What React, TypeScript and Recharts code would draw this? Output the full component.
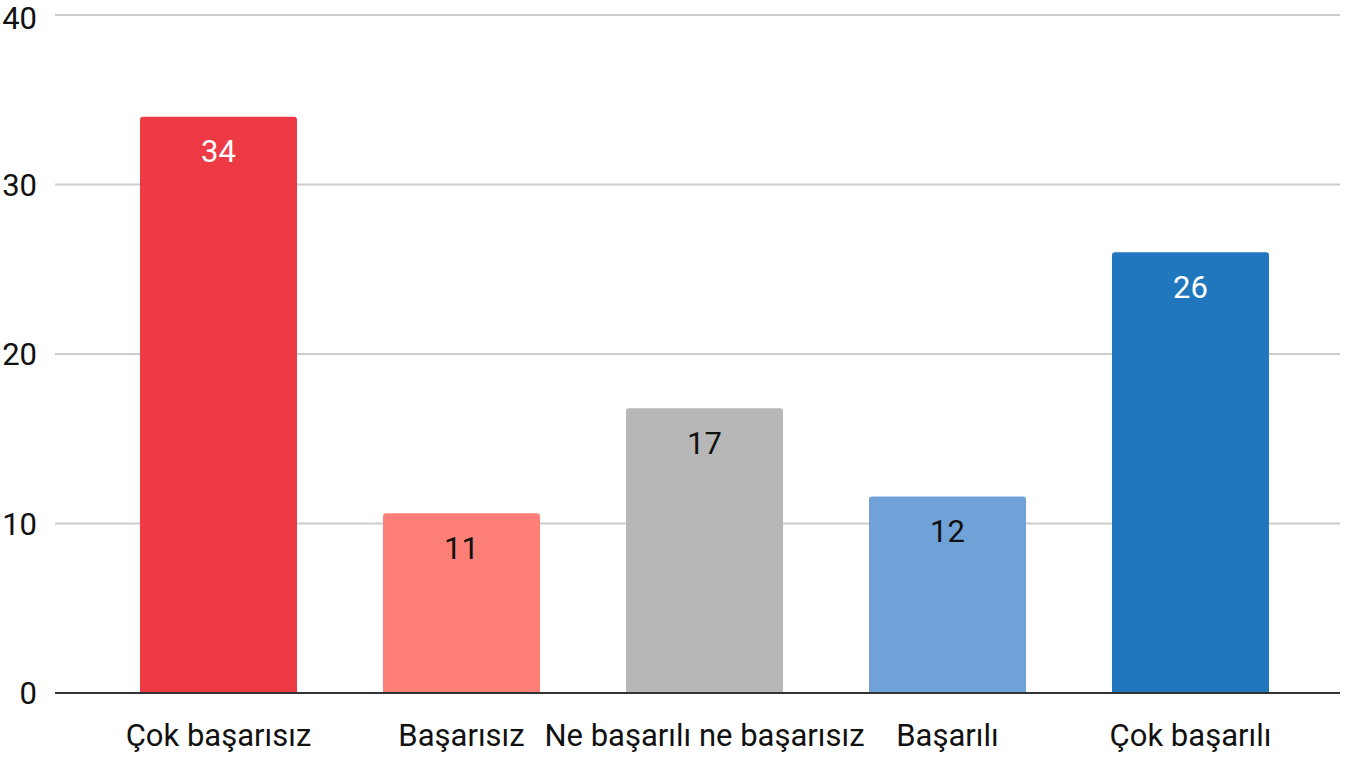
import React from 'react';
import { BarChart, Bar, XAxis, YAxis, CartesianGrid, Cell, LabelList } from 'recharts';

const categories = ['Çok başarısız', 'Başarısız', 'Ne başarılı ne başarısız', 'Başarılı', 'Çok başarılı'];
const values = [34, 10.6, 16.8, 11.6, 26];
const barColors = ['#EE3A45', '#FD7F78', '#B7B7B7', '#6FA3D7', '#2077BE'];
const labelColors = ['#FFFFFF', '#111111', '#111111', '#111111', '#FFFFFF'];
const yTicks = [0, 10, 20, 30, 40];

const data = categories.map((name, i) => ({ name, value: values[i] }));

const FONT = 'Roboto, "Noto Sans", sans-serif';

function BarLabel(props: any) {
  const { x, y, width, value, index } = props;
  return (
    <text
      x={x + width / 2}
      y={y + 35}
      textAnchor="middle"
      dominantBaseline="central"
      fontFamily={FONT}
      fontSize={31}
      fill={labelColors[index]}
    >
      {Math.round(value)}
    </text>
  );
}

export default function App() {
  return (
    <div style={{ position: 'absolute', left: 0, top: 0, background: '#fff' }}>
      <BarChart
        width={1363}
        height={758}
        data={data}
        margin={{ top: 15, right: 23, bottom: 0, left: 0 }}
      >
        <CartesianGrid vertical={false} stroke="#CCCCCC" strokeWidth={2} />
        <XAxis
          dataKey="name"
          height={65}
          tickLine={false}
          tickSize={0}
          tickMargin={31}
          axisLine={{ stroke: '#333333', strokeWidth: 2 }}
          padding={{ left: 42, right: 28 }}
          interval={0}
          tick={{ fontSize: 31, fill: '#111', fontFamily: FONT }}
        />
        <YAxis
          domain={[0, 40]}
          ticks={yTicks}
          width={55}
          tickLine={false}
          axisLine={false}
          tickSize={0}
          tickMargin={18}
          tick={{ fontSize: 31, fill: '#111', fontFamily: FONT }}
        />
        <Bar dataKey="value" barSize={157} radius={[3, 3, 0, 0]} isAnimationActive={false}>
          {data.map((d, i) => (
            <Cell key={d.name} fill={barColors[i]} />
          ))}
          <LabelList dataKey="value" content={<BarLabel />} />
        </Bar>
      </BarChart>
    </div>
  );
}
